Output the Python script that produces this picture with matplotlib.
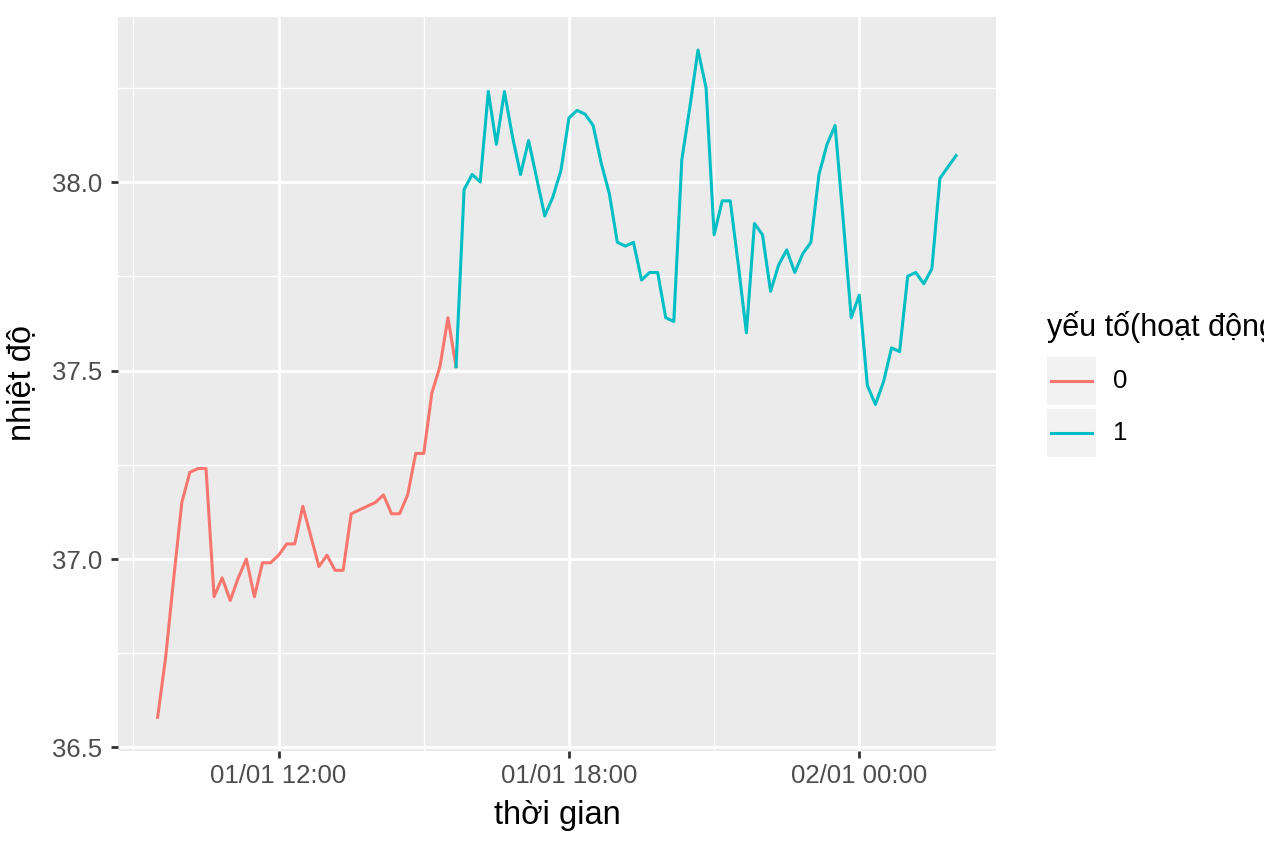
import numpy as np
import pandas as pd
import matplotlib
matplotlib.use('Agg')
import matplotlib.pyplot as plt
import matplotlib.dates as mdates
from matplotlib.patches import Rectangle
from matplotlib.lines import Line2D

plt.rcParams['font.family'] = ['Liberation Sans', 'DejaVu Sans']

# nhiệt độ đo mỗi 10 phút, bắt đầu lúc 01/01 09:30
start_time = '2020-01-01 09:30'
# yếu tố = 0
temp_0 = [36.58, 36.74, 36.95, 37.15, 37.23, 37.24, 37.24, 36.90, 36.95, 36.89,
          36.95, 37.00, 36.90, 36.99, 36.99, 37.01, 37.04, 37.04, 37.14, 37.06,
          36.98, 37.01, 36.97, 36.97, 37.12, 37.13, 37.14, 37.15, 37.17, 37.12,
          37.12, 37.17, 37.28, 37.28, 37.44, 37.51, 37.64]
# yếu tố = 1
temp_1 = [37.51, 37.98, 38.02, 38.00, 38.24, 38.10, 38.24, 38.12, 38.02, 38.11,
          38.01, 37.91, 37.96, 38.03, 38.17, 38.19, 38.18, 38.15, 38.05, 37.97,
          37.84, 37.83, 37.84, 37.74, 37.76, 37.76, 37.64, 37.63, 38.06, 38.20,
          38.35, 38.25, 37.86, 37.95, 37.95, 37.78, 37.60, 37.89, 37.86, 37.71,
          37.78, 37.82, 37.76, 37.81, 37.84, 38.02, 38.10, 38.15, 37.90, 37.64,
          37.70, 37.46, 37.41, 37.47, 37.56, 37.55, 37.75, 37.76, 37.73, 37.77,
          38.01, 38.04, 38.07]
levels = ['0', '1']
colors = ['#F8766D', '#00BFC4']

temp = temp_0 + temp_1
status = [0] * len(temp_0) + [1] * len(temp_1)
times = pd.date_range(start_time, periods=len(temp), freq='10min')
df = pd.DataFrame({'time': times, 'temp': temp, 'status': status})

W, H = 1264, 848
fig = plt.figure(figsize=(W / 100, H / 100), dpi=100)

def fx(px):
    return px / W

def fy(py):
    return 1 - py / H

# khung vẽ
left, right, top, bottom = 117.7, 996, 16.7, 750.7
ax = fig.add_axes([fx(left), fy(bottom), fx(right - left), (bottom - top) / H])
ax.set_facecolor('#EBEBEB')
for s in ax.spines.values():
    s.set_visible(False)

# đường: mỗi đoạn lấy màu của điểm đầu (giống ggplot group=1)
n0 = len(temp_0)
ax.plot(df['time'][:n0 + 1], df['temp'][:n0 + 1], color=colors[0], lw=2.2, solid_joinstyle='round')
ax.plot(df['time'][n0:], df['temp'][n0:], color=colors[1], lw=2.2, solid_joinstyle='round')

# giới hạn trục mở rộng 5% như ggplot
t = mdates.date2num(df['time'])
tspan = t.max() - t.min()
ax.set_xlim(t.min() - 0.05 * tspan, t.max() + 0.05 * tspan)
vspan = df['temp'].max() - df['temp'].min()
ax.set_ylim(df['temp'].min() - 0.05 * vspan, df['temp'].max() + 0.05 * vspan)

ax.xaxis.set_major_locator(mdates.HourLocator(byhour=[0, 6, 12, 18]))
ax.xaxis.set_minor_locator(mdates.HourLocator(byhour=[3, 9, 15, 21]))
ax.xaxis.set_major_formatter(mdates.DateFormatter('%d/%m %H:%M'))
ax.set_yticks([36.5, 37.0, 37.5, 38.0])
ax.set_yticks([36.75, 37.25, 37.75, 38.25], minor=True)
ax.set_yticklabels(['36.5', '37.0', '37.5', '38.0'])

ax.set_axisbelow(True)
ax.grid(which='major', color='white', lw=2.0)
ax.grid(which='minor', color='white', lw=1.0)
ax.tick_params(which='major', length=5.3, width=2.0, color='#333333',
               labelsize=18.5, labelcolor='#4D4D4D')
ax.tick_params(axis='x', which='major', pad=4)
ax.tick_params(axis='y', which='major', pad=6)
ax.tick_params(which='minor', length=0)

fig.text(fx(557), fy(824), 'thời gian', fontsize=23.5, ha='center', va='baseline')
fig.text(fx(22), fy(383), 'nhiệt độ', fontsize=23.5, rotation=90, ha='center', va='center')

# chú giải (tiêu đề bị cắt ở mép phải như bản gốc)
fig.text(fx(1047), fy(336), 'yếu tố(hoạt động)', fontsize=22, ha='left', va='baseline')
key_tops = [357, 409]
for lab, col, kt in zip(levels, colors, key_tops):
    fig.add_artist(Rectangle((fx(1047), fy(kt + 48)), fx(49), 48 / H,
                             transform=fig.transFigure, facecolor='#F2F2F2', edgecolor='none'))
    yc = kt + 24
    fig.add_artist(Line2D([fx(1051), fx(1092)], [fy(yc), fy(yc)], transform=fig.transFigure,
                          color=col, lw=2.2))
    fig.text(fx(1113), fy(yc), lab, fontsize=18.5, ha='left', va='center')

fig.savefig('out.png', dpi=100)
